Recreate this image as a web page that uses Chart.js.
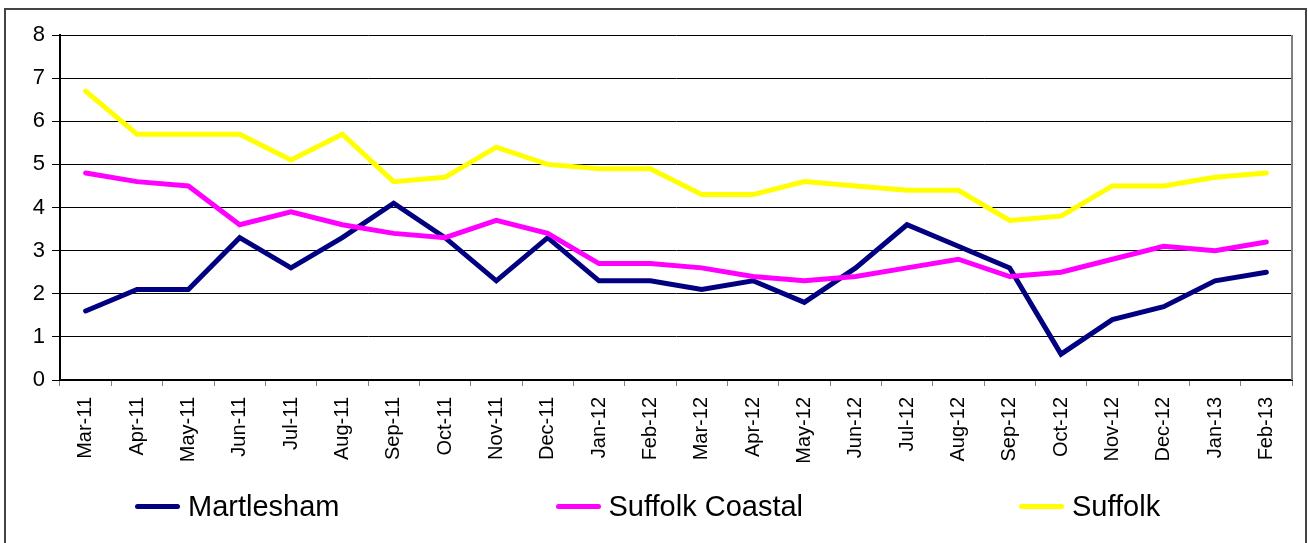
<!DOCTYPE html>
<html>
<head>
<meta charset="utf-8">
<script src="https://cdn.jsdelivr.net/npm/chart.js@4/dist/chart.umd.min.js"></script>
<style>
    body { margin: 0; overflow: hidden; background: #fff; }
    #wrap { position: relative; width: 1308px; height: 543px; }
    #frame { position: absolute; left: 4px; top: 8px; width: 1299px; height: 600px; border: 2px solid #444; }
    #myChart { position: absolute; left: 0; top: 0; }
    #legend { position: absolute; left: 135px; top: 490px; display: flex; gap: 216px; font-family: "Liberation Sans", Arial, sans-serif; font-size: 29px; color: #000; }
    #legend .item { display: flex; align-items: center; white-space: nowrap; }
    #legend .swatch { width: 45px; height: 5px; border-radius: 3px; margin-right: 8px; }
</style>
</head>
<body>
<div id="wrap">
    <div id="frame"></div>
    <canvas id="myChart" width="1308" height="543"></canvas>
    <div id="legend"></div>
</div>
<script>
const months = ["Mar-11", "Apr-11", "May-11", "Jun-11", "Jul-11", "Aug-11", "Sep-11", "Oct-11", "Nov-11", "Dec-11", "Jan-12", "Feb-12",
    "Mar-12", "Apr-12", "May-12", "Jun-12", "Jul-12", "Aug-12", "Sep-12", "Oct-12", "Nov-12", "Dec-12", "Jan-13", "Feb-13"];

const martlesham = [1.6, 2.1, 2.1, 3.3, 2.6, 3.3, 4.1, 3.3, 2.3, 3.3, 2.3, 2.3, 2.1, 2.3, 1.8, 2.6, 3.6, 3.1, 2.6, 0.6, 1.4, 1.7, 2.3, 2.5];
const suffolkCoastal = [4.8, 4.6, 4.5, 3.6, 3.9, 3.6, 3.4, 3.3, 3.7, 3.4, 2.7, 2.7, 2.6, 2.4, 2.3, 2.4, 2.6, 2.8, 2.4, 2.5, 2.8, 3.1, 3.0, 3.2];
const suffolk = [6.7, 5.7, 5.7, 5.7, 5.1, 5.7, 4.6, 4.7, 5.4, 5.0, 4.9, 4.9, 4.3, 4.3, 4.6, 4.5, 4.4, 4.4, 3.7, 3.8, 4.5, 4.5, 4.7, 4.8];

const seriesNames = ["Martlesham", "Suffolk Coastal", "Suffolk"];
const seriesColors = ["#000080", "#ff00ff", "#ffff00"];

const yTicks = [0, 1, 2, 3, 4, 5, 6, 7, 8];

// right hand edge of the plot area
const plotBorder = {
    id: 'plotBorder',
    afterDraw(chart) {
        const a = chart.chartArea;
        const ctx = chart.ctx;
        ctx.save();
        ctx.strokeStyle = '#808080';
        ctx.lineWidth = 2;
        ctx.beginPath();
        ctx.moveTo(a.right, a.top);
        ctx.lineTo(a.right, a.bottom);
        ctx.stroke();
        ctx.restore();
    }
};

function buildLegend(chart) {
    const box = document.getElementById('legend');
    box.innerHTML = '';
    seriesNames.forEach((name, i) => {
        const item = document.createElement('div');
        item.className = 'item';
        const sw = document.createElement('span');
        sw.className = 'swatch';
        sw.style.background = seriesColors[i];
        const txt = document.createElement('span');
        txt.textContent = name;
        item.appendChild(sw);
        item.appendChild(txt);
        box.appendChild(item);
    });
}

function showGraph() {
    const ctx = document.getElementById('myChart');
    const allData = [martlesham, suffolkCoastal, suffolk];

    const chart = new Chart(ctx, {
        type: 'line',
        data: {
            labels: months,
            datasets: seriesNames.map((name, i) => ({
                label: name,
                data: allData[i],
                borderColor: seriesColors[i],
                backgroundColor: seriesColors[i],
                borderWidth: 5,
                borderCapStyle: 'round',
                pointRadius: 0,
                tension: 0,
                order: 3 - i
            }))
        },
        options: {
            responsive: false,
            animation: false,
            layout: {
                padding: { left: 0, right: 16, top: 35, bottom: 80 }
            },
            plugins: {
                legend: { display: false },
                tooltip: { enabled: false }
            },
            scales: {
                x: {
                    offset: true,
                    grid: {
                        offset: true,
                        drawOnChartArea: false,
                        color: '#808080',
                        tickLength: 6
                    },
                    border: { color: '#000', width: 2 },
                    ticks: {
                        color: '#000',
                        autoSkip: false,
                        minRotation: 90,
                        maxRotation: 90,
                        padding: 11,
                        font: { family: '"Liberation Sans", Arial, sans-serif', size: 20 }
                    },
                    afterFit: (scale) => { scale.height = 83; }
                },
                y: {
                    min: 0,
                    max: 8,
                    afterBuildTicks: (scale) => { scale.ticks = yTicks.map(v => ({ value: v })); },
                    grid: {
                        color: '#000',
                        lineWidth: 1,
                        tickLength: 8
                    },
                    border: { color: '#000', width: 2 },
                    ticks: {
                        color: '#000',
                        padding: 7,
                        font: { family: '"Liberation Sans", Arial, sans-serif', size: 22 }
                    },
                    afterFit: (scale) => { scale.width = 60; }
                }
            }
        },
        plugins: [plotBorder]
    });

    buildLegend(chart);
}

showGraph();
</script>
</body>
</html>
